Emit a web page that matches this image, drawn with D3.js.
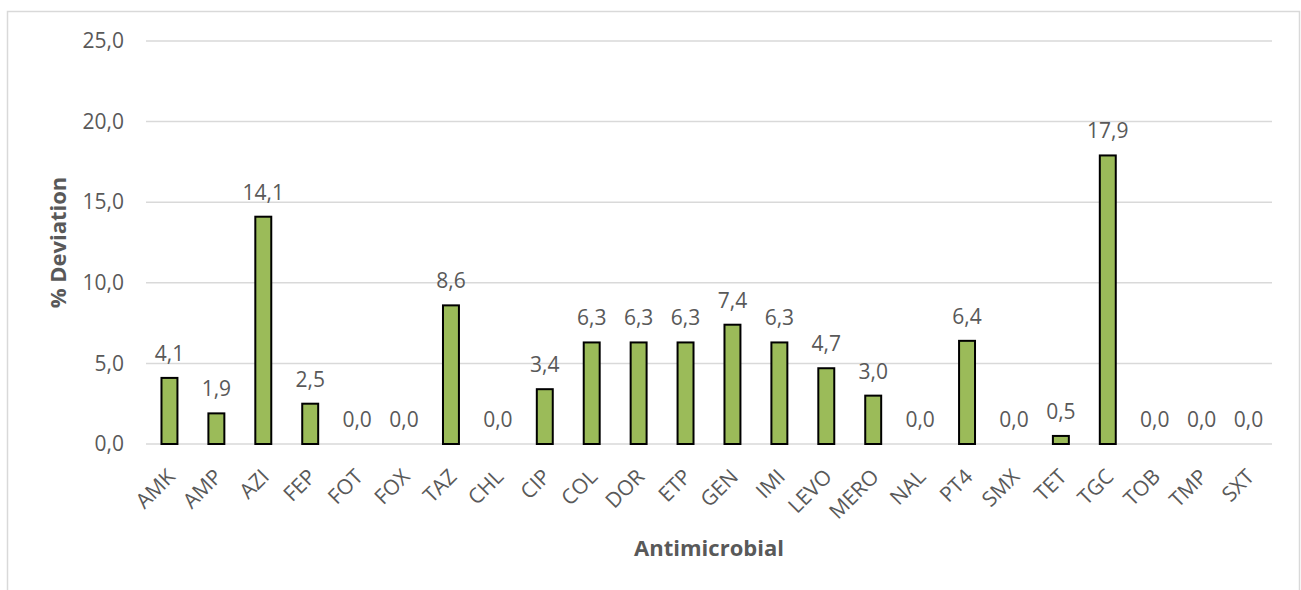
<!DOCTYPE html>
<html>
<head>
<meta charset="utf-8">
<script src="https://cdn.jsdelivr.net/npm/d3@7"></script>
<style>
  html, body { margin: 0; padding: 0; background: #fff; }
  svg { display: block; }
  text { font-family: "Open Sans", "Liberation Sans", sans-serif; fill: #595959; }
</style>
</head>
<body>
<svg id="chart" width="1301" height="590"></svg>
<script>
// Antimicrobial categories and % deviation per agent
const categories = ["AMK","AMP","AZI","FEP","FOT","FOX","TAZ","CHL","CIP","COL","DOR","ETP",
                    "GEN","IMI","LEVO","MERO","NAL","PT4","SMX","TET","TGC","TOB","TMP","SXT"];
const deviation = [4.1, 1.9, 14.1, 2.5, 0.0, 0.0, 8.6, 0.0, 3.4, 6.3, 6.3, 6.3,
                   7.4, 6.3, 4.7, 3.0, 0.0, 6.4, 0.0, 0.5, 17.9, 0.0, 0.0, 0.0];
const yTicks = [0, 5, 10, 15, 20, 25];
const yTitle = "% Deviation";
const xTitle = "Antimicrobial";

const svg = d3.select("#chart");
const fmt = v => v.toFixed(1).replace(".", ",");
const FS = "21px";

// chart frame
svg.append("rect")
  .attr("x", 7.5).attr("y", 11.5)
  .attr("width", 1292).attr("height", 600)
  .attr("fill", "none").attr("stroke", "#d9d9d9").attr("stroke-width", 1.5);

const plot = { left: 146, right: 1272, top: 41, bottom: 444 };

const x = d3.scaleBand()
  .domain(categories)
  .range([plot.left, plot.right])
  .paddingInner(0.66)
  .paddingOuter(0.33);

const y = d3.scaleLinear()
  .domain([0, 25])
  .range([plot.bottom, plot.top]);

// horizontal gridlines
svg.append("g")
  .selectAll("line")
  .data(yTicks)
  .join("line")
  .attr("x1", plot.left).attr("x2", plot.right)
  .attr("y1", d => y(d)).attr("y2", d => y(d))
  .attr("stroke", "#d9d9d9").attr("stroke-width", 1.5);

// y axis labels
const yAxis = svg.append("g")
  .attr("transform", `translate(${plot.left - 22},0)`)
  .call(d3.axisLeft(y).tickValues(yTicks).tickFormat(fmt).tickSize(0).tickPadding(0));
yAxis.select(".domain").remove();
yAxis.selectAll("text")
  .style("font-size", FS)
  .attr("fill", "#595959")
  .attr("font-family", "'Open Sans', sans-serif");

// x axis labels, rotated
const xAxis = svg.append("g")
  .attr("transform", `translate(0,${plot.bottom})`)
  .call(d3.axisBottom(x).tickSize(0).tickPadding(0));
xAxis.select(".domain").remove();
xAxis.selectAll("text")
  .style("font-size", FS)
  .attr("fill", "#595959")
  .attr("font-family", "'Open Sans', sans-serif")
  .attr("text-anchor", "end")
  .attr("dy", "0")
  .attr("y", 0)
  .attr("transform", "translate(7,34) rotate(-45)");

// bars
svg.append("g")
  .selectAll("rect")
  .data(deviation)
  .join("rect")
  .attr("x", (d, i) => x(categories[i]))
  .attr("y", d => y(d))
  .attr("width", x.bandwidth())
  .attr("height", d => y(0) - y(d))
  .attr("fill", "#9bbb59")
  .attr("stroke", d => d > 0 ? "#000" : "none")
  .attr("stroke-width", 2);

// value labels
svg.append("g")
  .selectAll("text")
  .data(deviation)
  .join("text")
  .attr("x", (d, i) => x(categories[i]) + x.bandwidth() / 2)
  .attr("y", d => y(d) - 17)
  .attr("text-anchor", "middle")
  .style("font-size", FS)
  .text(fmt);

// axis titles
svg.append("text")
  .attr("transform", `translate(66,${(plot.top + plot.bottom) / 2}) rotate(-90)`)
  .attr("text-anchor", "middle")
  .style("font-size", "22px")
  .style("font-weight", "bold")
  .text(yTitle);

svg.append("text")
  .attr("x", (plot.left + plot.right) / 2)
  .attr("y", 556)
  .attr("text-anchor", "middle")
  .style("font-size", "22px")
  .style("font-weight", "bold")
  .text(xTitle);
</script>
</body>
</html>
